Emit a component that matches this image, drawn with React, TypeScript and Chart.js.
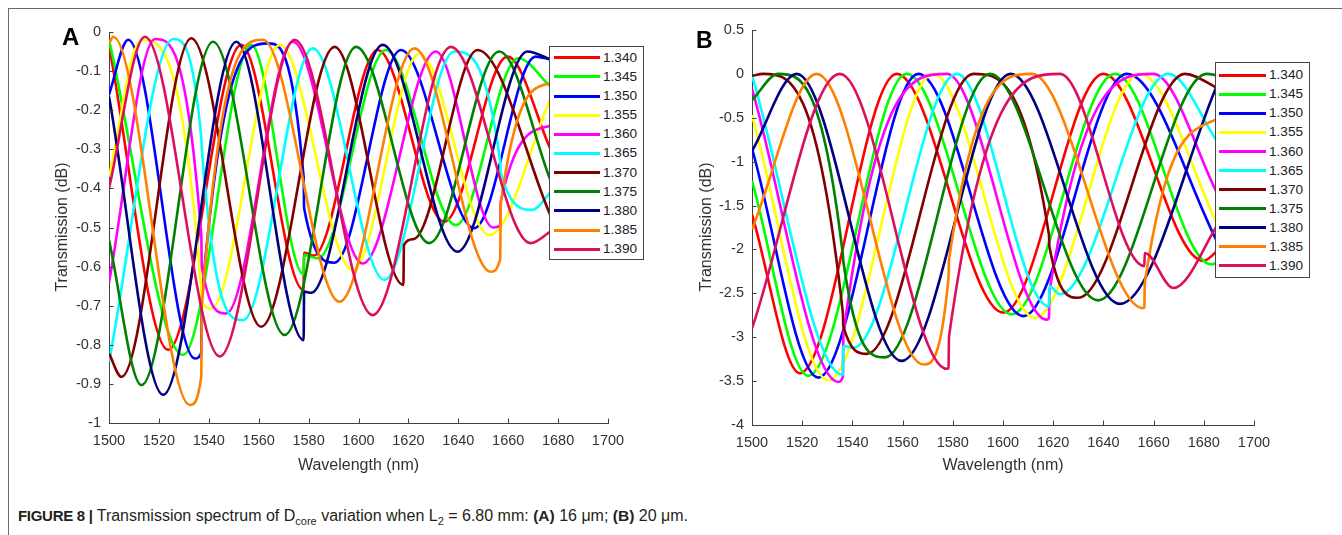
import React, { useEffect, useRef } from 'react';
import { Chart, registerables } from 'chart.js';

Chart.register(...registerables);

type Pt = [number, number];

const SERIES_LABELS = ['1.340', '1.345', '1.350', '1.355', '1.360', '1.365', '1.370', '1.375', '1.380', '1.385', '1.390'];
const SERIES_COLORS = ['#ff0000', '#00ff00', '#0000ff', '#ffff00', '#ff00ff', '#00ffff', '#800000', '#008000', '#000080', '#ff8000', '#dc0f5f'];

const X_TICK_STEP = 20;
const X_MIN = 1500;
const X_MAX = 1700;

// Panel A (16 um) : [wavelength nm, transmission dB]
const A_1340: Pt[] = [[1500, -0.035], [1523.7, -0.813], [1553, -0.033], [1578, -0.66], [1578.2, -0.565], [1582, -0.572], [1607.7, -0.046], [1634.4, -0.485], [1659.7, -0.063], [1677, -0.3]];
const A_1345: Pt[] = [[1500, -0.02], [1529.7, -0.826], [1557, -0.033], [1578, -0.62], [1578.2, -0.57], [1583.7, -0.579], [1611, -0.046], [1639, -0.494], [1664, -0.067], [1677, -0.14]];
const A_1350: Pt[] = [[1500, -0.16], [1507.7, -0.02], [1534.4, -0.835], [1537, -0.82], [1537.2, -0.68], [1563.7, -0.029], [1578, -0.37], [1578.2, -0.45], [1590.4, -0.59], [1617, -0.046], [1646.4, -0.502], [1671, -0.063], [1677, -0.07]];
const A_1355: Pt[] = [[1500, -0.37], [1513, -0.02], [1537, -0.66], [1537.2, -0.69], [1541, -0.707], [1568.4, -0.033], [1597.7, -0.609], [1624.4, -0.055], [1652.4, -0.519], [1677, -0.17]];
const A_1360: Pt[] = [[1500, -0.64], [1518.4, -0.018], [1537, -0.52], [1537.2, -0.6], [1547, -0.72], [1573.7, -0.025], [1601.7, -0.592], [1631, -0.05], [1654, -0.5], [1656.8, -0.495], [1657, -0.434], [1677, -0.24]];
const A_1365: Pt[] = [[1500, -0.843], [1525.7, -0.018], [1537, -0.27], [1537.2, -0.3], [1553.7, -0.737], [1581.7, -0.042], [1610.4, -0.634], [1638.4, -0.05], [1656.8, -0.33], [1657, -0.36], [1669.6, -0.455], [1677, -0.41]];
const A_1370: Pt[] = [[1500, -0.822], [1505, -0.882], [1533, -0.016], [1561, -0.754], [1590.4, -0.038], [1618, -0.647], [1618.2, -0.545], [1622, -0.53], [1647.7, -0.046], [1677, -0.47]];
const A_1375: Pt[] = [[1500, -0.532], [1513, -0.903], [1541.7, -0.025], [1570.4, -0.775], [1599, -0.038], [1628.4, -0.54], [1656.4, -0.05], [1677, -0.38]];
const A_1380: Pt[] = [[1500, -0.165], [1521.7, -0.928], [1551, -0.025], [1578, -0.788], [1578.2, -0.664], [1581, -0.667], [1609.7, -0.033], [1639.7, -0.562], [1667.7, -0.05], [1677, -0.07]];
const A_1385: Pt[] = [[1500, -0.03], [1501.7, -0.012], [1532.4, -0.954], [1537, -0.88], [1537.2, -0.7], [1561.7, -0.02], [1592.4, -0.69], [1622.4, -0.042], [1653, -0.613], [1656.8, -0.58], [1657, -0.44], [1677, -0.13]];
const A_1390: Pt[] = [[1500, -0.4], [1514.4, -0.012], [1544.4, -0.83], [1574.4, -0.02], [1605.7, -0.724], [1637, -0.038], [1669, -0.54], [1677, -0.51]];

// Panel B (20 um)
const B_1340: Pt[] = [[1500, -1.6], [1519.1, -3.41], [1557.6, 0], [1600.1, -2.72], [1640, 0], [1679.8, -2.13], [1686, -2.0]];
const B_1345: Pt[] = [[1500, -1.22], [1522.4, -3.44], [1561.6, 0], [1603.5, -2.74], [1644.6, 0], [1683, -2.17], [1686, -2.15]];
const B_1350: Pt[] = [[1500, -0.85], [1526.4, -3.46], [1566.3, 0], [1608.1, -2.76], [1649.3, 0], [1686, -1.95]];
const B_1355: Pt[] = [[1500, -0.47], [1530.4, -3.49], [1572.2, 0], [1612.7, -2.78], [1654.6, 0], [1686, -1.75]];
const B_1360: Pt[] = [[1500, -0.17], [1534.4, -3.51], [1536.2, -3.45], [1536.4, -2.97], [1577.6, 0], [1617.4, -2.8], [1618.3, -2.78], [1618.5, -2.48], [1659.9, 0], [1686, -1.4]];
const B_1365: Pt[] = [[1500, -0.02], [1536.2, -3.43], [1536.4, -3.1], [1540.4, -3.12], [1581.6, 0], [1618.3, -2.65], [1618.5, -2.42], [1622.7, -2.51], [1665.9, 0], [1686, -0.8]];
const B_1370: Pt[] = [[1500, -0.02], [1504.5, 0], [1536.2, -2.72], [1536.4, -2.88], [1545.8, -3.19], [1588.2, 0], [1618.3, -1.83], [1618.5, -1.97], [1630, -2.55], [1672.5, 0], [1686, -0.17]];
const B_1375: Pt[] = [[1500, -0.3], [1510.5, 0], [1536.2, -2.06], [1536.4, -2.14], [1553, -3.23], [1594.8, 0], [1637.9, -2.58], [1681.2, 0], [1686, -0.02]];
const B_1380: Pt[] = [[1500, -0.88], [1517.8, 0], [1559.6, -3.27], [1603, 0], [1646.6, -2.62], [1686, -0.08]];
const B_1385: Pt[] = [[1500, -1.77], [1525.8, 0], [1568.3, -3.31], [1578.3, -2.32], [1578.5, -2.11], [1611.4, 0], [1655.9, -2.67], [1656.3, -2.66], [1656.5, -2.38], [1686, -0.5]];
const B_1390: Pt[] = [[1500, -2.9], [1535, 0], [1577.6, -3.36], [1578.3, -3.35], [1578.5, -2.99], [1622.7, 0], [1656.3, -2.19], [1656.5, -2.04], [1667.9, -2.44], [1686, -1.7]];

const PANEL_A_SERIES = [A_1340, A_1345, A_1350, A_1355, A_1360, A_1365, A_1370, A_1375, A_1380, A_1385, A_1390];
const PANEL_B_SERIES = [B_1340, B_1345, B_1350, B_1355, B_1360, B_1365, B_1370, B_1375, B_1380, B_1385, B_1390];

const AXIS_COLOR = '#404040';
const TEXT_COLOR = '#333333';
const FONT = "'Liberation Sans', Arial, Helvetica, sans-serif";

const inwardTicks = {
  id: 'inwardTicks',
  afterDraw(chart: any) {
    const { ctx, chartArea } = chart;
    const xs = chart.scales.x;
    const ys = chart.scales.y;
    ctx.save();
    ctx.strokeStyle = AXIS_COLOR;
    ctx.lineWidth = 1;
    ctx.beginPath();
    xs.ticks.forEach((t: any) => {
      const px = Math.round(xs.getPixelForValue(t.value)) + 0.5;
      ctx.moveTo(px, chartArea.bottom);
      ctx.lineTo(px, chartArea.bottom - 4.5);
    });
    ys.ticks.forEach((t: any) => {
      const py = Math.round(ys.getPixelForValue(t.value)) + 0.5;
      ctx.moveTo(chartArea.left, py);
      ctx.lineTo(chartArea.left + 4.5, py);
    });
    ctx.stroke();
    ctx.restore();
  },
};

interface PanelProps {
  left: number;
  width: number;
  height: number;
  series: Pt[][];
  yMin: number;
  yMax: number;
  yStep: number;
  area: { left: number; right: number; top: number; bottom: number };
}

function Panel({ left, width, height, series, yMin, yMax, yStep, area }: PanelProps) {
  const ref = useRef<HTMLCanvasElement>(null);
  useEffect(() => {
    const canvas = ref.current;
    if (!canvas) return;
    const chart = new Chart(canvas, {
      type: 'line',
      data: {
        datasets: series.map((pts, i) => ({
          label: SERIES_LABELS[i],
          data: pts.map(([x, y]) => ({ x, y })),
          borderColor: SERIES_COLORS[i],
          backgroundColor: SERIES_COLORS[i],
          borderWidth: 2.6,
          pointRadius: 0,
          fill: false,
          cubicInterpolationMode: 'monotone',
          order: 20 - i,
        })),
      },
      options: {
        animation: false,
        responsive: false,
        events: [],
        layout: { padding: { left: 0, top: area.top, right: width - area.right, bottom: 0 } },
        plugins: { legend: { display: false }, tooltip: { enabled: false }, title: { display: false } },
        scales: {
          x: {
            type: 'linear',
            min: X_MIN,
            max: X_MAX,
            grid: { display: false, drawTicks: false },
            border: { display: true, color: AXIS_COLOR, width: 1 },
            ticks: {
              stepSize: X_TICK_STEP,
              padding: 9,
              color: TEXT_COLOR,
              font: { family: FONT, size: 14.5 },
              maxRotation: 0,
              autoSkip: false,
              callback: (v: any) => String(Math.round(Number(v))),
            },
            afterFit: (s: any) => {
              s.height = height - area.bottom;
            },
          },
          y: {
            type: 'linear',
            min: yMin,
            max: yMax,
            grid: { display: false, drawTicks: false },
            border: { display: true, color: AXIS_COLOR, width: 1 },
            ticks: {
              stepSize: yStep,
              padding: 8,
              color: TEXT_COLOR,
              font: { family: FONT, size: 14.5 },
              autoSkip: false,
              callback: (v: any) => {
                const r = Math.round(Number(v) * 10) / 10;
                return r === 0 ? '0' : String(r);
              },
            },
            afterFit: (s: any) => {
              s.width = area.left;
            },
          },
        },
      } as any,
      plugins: [inwardTicks],
    });
    return () => chart.destroy();
  }, []);
  return (
    <canvas
      ref={ref}
      width={width}
      height={height}
      style={{ position: 'absolute', left, top: 0, width, height }}
    />
  );
}

interface LegendProps {
  left: number;
  top: number;
  width: number;
  height: number;
  firstY: number;
  step: number;
  lineX0: number;
  lineX1: number;
  textX: number;
}

function Legend({ left, top, width, height, firstY, step, lineX0, lineX1, textX }: LegendProps) {
  return (
    <>
      <div
        style={{
          position: 'absolute',
          left,
          top,
          width,
          height,
          background: '#fff',
          border: '1px solid #444',
          boxSizing: 'border-box',
        }}
      />
      {SERIES_LABELS.map((lab, i) => {
        const y = firstY + step * i;
        return (
          <React.Fragment key={lab}>
            <div
              style={{
                position: 'absolute',
                left: lineX0,
                top: y - 1.5,
                width: lineX1 - lineX0,
                height: 3,
                background: SERIES_COLORS[i],
              }}
            />
            <div
              style={{
                position: 'absolute',
                left: textX,
                top: y - 8,
                height: 16,
                lineHeight: '16px',
                fontSize: 13.6,
                color: '#222',
                fontFamily: FONT,
                whiteSpace: 'nowrap',
              }}
            >
              {lab}
            </div>
          </React.Fragment>
        );
      })}
    </>
  );
}

const titleStyle: React.CSSProperties = {
  position: 'absolute',
  fontSize: 16,
  lineHeight: '18px',
  color: TEXT_COLOR,
  fontFamily: FONT,
  whiteSpace: 'nowrap',
};

const subStyle: React.CSSProperties = { fontSize: 11, position: 'relative', top: 4 };

export default function App() {
  return (
    <div
      style={{
        position: 'absolute',
        left: 0,
        top: 0,
        width: 1342,
        height: 535,
        overflow: 'hidden',
        background: '#fff',
        fontFamily: FONT,
      }}
    >
      <div
        style={{
          position: 'absolute',
          left: 8,
          top: 8,
          width: 1400,
          height: 600,
          borderTop: '1px solid #6a6a6a',
          borderLeft: '1px solid #6a6a6a',
        }}
      />
      <Panel
        left={0}
        width={680}
        height={500}
        series={PANEL_A_SERIES}
        yMin={-1}
        yMax={0}
        yStep={0.1}
        area={{ left: 109, right: 608, top: 32, bottom: 423 }}
      />
      <Panel
        left={680}
        width={662}
        height={500}
        series={PANEL_B_SERIES}
        yMin={-4}
        yMax={0.5}
        yStep={0.5}
        area={{ left: 72, right: 574, top: 30, bottom: 425 }}
      />
      <Legend left={549} top={46} width={95} height={214} firstY={57.7} step={19.15} lineX0={554} lineX1={600} textX={603} />
      <Legend left={1215} top={62} width={95} height={216} firstY={75.3} step={19.05} lineX0={1219} lineX1={1266} textX={1269} />

      <div style={{ ...titleStyle, left: 109, width: 499, top: 456, textAlign: 'center' }}>Wavelength (nm)</div>
      <div style={{ ...titleStyle, left: 752, width: 502, top: 456, textAlign: 'center' }}>Wavelength (nm)</div>
      <div style={{ ...titleStyle, left: 62, top: 227, transform: 'translate(-50%, -50%) rotate(-90deg)' }}>Transmission (dB)</div>
      <div style={{ ...titleStyle, left: 706, top: 227, transform: 'translate(-50%, -50%) rotate(-90deg)' }}>Transmission (dB)</div>

      <div style={{ position: 'absolute', left: 62, top: 25, fontSize: 24, lineHeight: '24px', fontWeight: 700, color: '#000', fontFamily: FONT }}>A</div>
      <div style={{ position: 'absolute', left: 696, top: 29, fontSize: 23, lineHeight: '23px', fontWeight: 700, color: '#000', fontFamily: FONT }}>B</div>

      <div
        style={{
          position: 'absolute',
          left: 18,
          top: 506,
          fontSize: 16,
          lineHeight: '20px',
          color: '#231f20',
          fontFamily: FONT,
          whiteSpace: 'nowrap',
        }}
      >
        <b style={{ fontSize: 15, letterSpacing: -0.3 }}>FIGURE 8 |</b> Transmission spectrum of D
        <span style={subStyle}>core</span> variation when L
        <span style={subStyle}>2</span> = 6.80 mm: <b style={{ fontSize: 15.5 }}>(A)</b> 16 μm; <b style={{ fontSize: 15.5 }}>(B)</b> 20 μm.
      </div>
    </div>
  );
}
